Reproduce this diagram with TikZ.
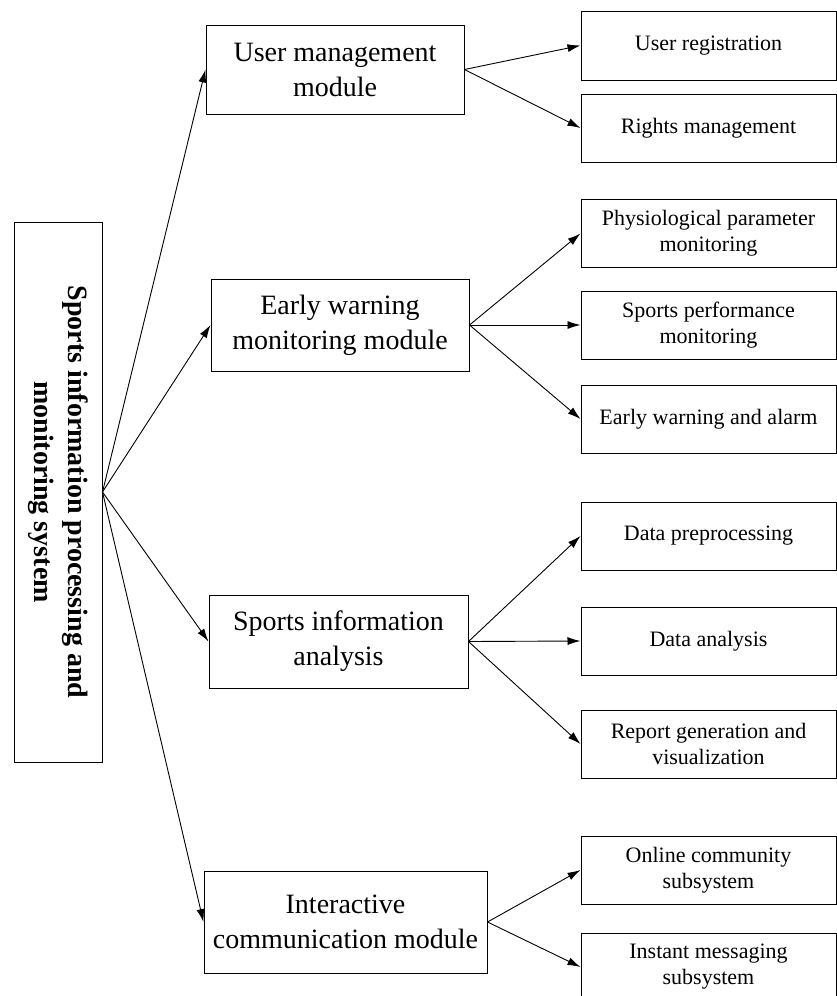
\documentclass[tikz,border=0pt]{standalone}
\usepackage{fontspec}
\setmainfont{Liberation Serif}
\usetikzlibrary{arrows.meta,positioning}
\tikzset{
  rootbox/.style={draw,line width=1pt,inner sep=0pt,minimum width=88pt,
    minimum height=540pt,align=center,font=\fontsize{28}{34}\selectfont\bfseries},
  modblock/.style={draw,line width=1pt,inner sep=2pt,minimum width=258pt,
    minimum height=92pt,align=center,font=\fontsize{28}{35}\selectfont},
  leafblock/.style={draw,line width=1pt,inner sep=2pt,minimum width=255pt,
    minimum height=68pt,align=center,font=\fontsize{22}{26}\selectfont},
  flowarrow/.style={-{Latex[length=13pt,width=8pt]},line width=0.9pt}
}
\begin{document}
\begin{tikzpicture}[x=1pt,y=1pt]
\useasboundingbox (0,0) rectangle (837,-996);
\clip (0,0) rectangle (837,-996);
% root
\node[rootbox] (sys) at (58,-492) {\rotatebox{-90}{\begin{tabular}{@{}c@{}}Sports information processing and\\monitoring system\end{tabular}}};
% modules
\node[modblock,minimum height=89pt] (user) at (335,-69.5) {User management\\module};
\node[modblock] (warn) at (340,-325) {Early warning\\monitoring module};
\node[modblock,minimum width=259pt,minimum height=93pt] (anal) at (338.5,-641.5) {Sports information\\analysis};
\node[modblock,minimum width=283pt,minimum height=102pt] (comm) at (345.5,-922) {Interactive\\communication module};
% sub-functions
\node[leafblock,minimum height=69pt] (reg) at (708.5,-45.5) {User registration};
\node[leafblock] (rights) at (708.5,-128) {Rights management};
\node[leafblock] (phys) at (708.5,-233.5) {Physiological parameter\\monitoring};
\node[leafblock] (perf) at (708.5,-325) {Sports performance\\monitoring};
\node[leafblock] (alarm) at (708.5,-419) {Early warning and alarm};
\node[leafblock] (prep) at (708.5,-536) {Data preprocessing};
\node[leafblock] (data) at (708.5,-641) {Data analysis};
\node[leafblock] (report) at (708.5,-744) {Report generation and\\visualization};
\node[leafblock] (online) at (708.5,-870) {Online community\\subsystem};
\node[leafblock] (instant) at (708.5,-967) {Instant messaging\\subsystem};
% arrows
\draw[flowarrow] (sys.east) -- (user.west);
\draw[flowarrow] (sys.east) -- (warn.west);
\draw[flowarrow] (sys.east) -- (anal.west);
\draw[flowarrow] (sys.east) -- (comm.west);
\draw[flowarrow] (user.east) -- (reg.west);
\draw[flowarrow] (user.east) -- (rights.west);
\draw[flowarrow] (warn.east) -- (phys.west);
\draw[flowarrow] (warn.east) -- (perf.west);
\draw[flowarrow] (warn.east) -- (alarm.west);
\draw[flowarrow] (anal.east) -- (prep.west);
\draw[flowarrow] (anal.east) -- (data.west);
\draw[flowarrow] (anal.east) -- (report.west);
\draw[flowarrow] (comm.east) -- (online.west);
\draw[flowarrow] (comm.east) -- (instant.west);
\end{tikzpicture}
\end{document}
